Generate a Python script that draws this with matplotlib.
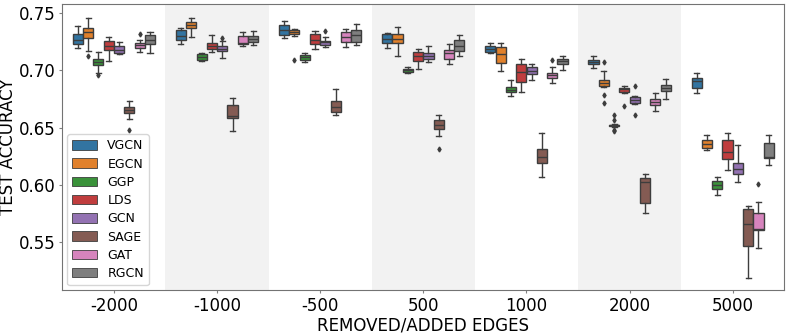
import matplotlib
matplotlib.use('Agg')
from matplotlib import pyplot as plt
import seaborn as sns

groups = ['-2000', '-1000', '-500', '500', '1000', '2000', '5000']
models = ['VGCN', 'EGCN', 'GGP', 'LDS', 'GCN', 'SAGE', 'GAT', 'RGCN']
palette = ['#1f77b4', '#ff7f0e', '#2ca02c', '#d62728', '#9467bd', '#8c564b', '#e377c2', '#7f7f7f']

# box stats, rows = groups, cols = models
whishi = [
    [0.739, 0.7454, 0.716, 0.7294, 0.725, 0.6736, 0.7268, 0.7334],
    [0.7373, 0.746, 0.7151, 0.7305, 0.7259, 0.6762, 0.7334, 0.7343],
    [0.743, 0.7364, 0.7154, 0.7343, 0.7291, 0.6837, 0.7364, 0.7401],
    [0.7329, 0.7378, 0.7026, 0.7186, 0.7212, 0.661, 0.723, 0.7311],
    [0.7242, 0.7242, 0.6913, 0.7099, 0.7055, 0.6455, 0.7029, 0.7122],
    [0.7125, 0.6991, 0.6530, 0.6863, 0.6776, 0.6092, 0.6803, 0.6924],
    [0.6976, 0.6433, 0.6064, 0.6453, 0.6348, 0.5813, 0.5851, 0.6433],
]
q3 = [
    [0.732, 0.7373, 0.7099, 0.7256, 0.7212, 0.668, 0.7238, 0.7305],
    [0.7355, 0.7425, 0.714, 0.7238, 0.7209, 0.6695, 0.7297, 0.7299],
    [0.7399, 0.7355, 0.7137, 0.7314, 0.7259, 0.673, 0.7334, 0.7355],
    [0.7317, 0.7317, 0.7011, 0.7163, 0.7148, 0.6563, 0.718, 0.7268],
    [0.7212, 0.7203, 0.6852, 0.7058, 0.7026, 0.6311, 0.6976, 0.7099],
    [0.7093, 0.6913, 0.6526, 0.6849, 0.6767, 0.606, 0.6747, 0.6875],
    [0.6936, 0.6395, 0.6034, 0.6395, 0.6191, 0.5784, 0.575, 0.6366],
]
med = [
    [0.7262, 0.7334, 0.7072, 0.721, 0.718, 0.6657, 0.7221, 0.7268],
    [0.7297, 0.7395, 0.7116, 0.7212, 0.7189, 0.6601, 0.7240, 0.7277],
    [0.7349, 0.7338, 0.7116, 0.7262, 0.7244, 0.668, 0.7294, 0.7312],
    [0.7273, 0.7273, 0.7, 0.7125, 0.7128, 0.652, 0.7151, 0.7215],
    [0.7189, 0.714, 0.6832, 0.6985, 0.6997, 0.6241, 0.6959, 0.7081],
    [0.7076, 0.689, 0.652, 0.6834, 0.6744, 0.602, 0.6723, 0.6846],
    [0.6904, 0.636, 0.5994, 0.6284, 0.6134, 0.5654, 0.561, 0.6239],
]
q1 = [
    [0.7233, 0.7285, 0.7046, 0.718, 0.7154, 0.6627, 0.7198, 0.7233],
    [0.7268, 0.7366, 0.7087, 0.7186, 0.7168, 0.6587, 0.7233, 0.7247],
    [0.7305, 0.732, 0.7093, 0.7233, 0.7224, 0.6636, 0.7247, 0.7247],
    [0.7238, 0.7238, 0.6985, 0.7085, 0.7099, 0.649, 0.7102, 0.7168],
    [0.7163, 0.7064, 0.6808, 0.6898, 0.6971, 0.6191, 0.693, 0.7058],
    [0.7055, 0.6863, 0.6511, 0.6814, 0.6715, 0.5837, 0.6701, 0.6823],
    [0.6849, 0.6325, 0.5959, 0.6226, 0.609, 0.5467, 0.5604, 0.6232],
]
whislo = [
    [0.7198, 0.7166, 0.6976, 0.7079, 0.7146, 0.6575, 0.7157, 0.7154],
    [0.7233, 0.7291, 0.7085, 0.7163, 0.7105, 0.6474, 0.7209, 0.7224],
    [0.7285, 0.7297, 0.7072, 0.7189, 0.7203, 0.6613, 0.7203, 0.7218],
    [0.7192, 0.7122, 0.6974, 0.7014, 0.7072, 0.6425, 0.7058, 0.7122],
    [0.7154, 0.6994, 0.6779, 0.6808, 0.6919, 0.6072, 0.6893, 0.7006],
    [0.7024, 0.6854, 0.6505, 0.6799, 0.6703, 0.575, 0.6648, 0.6747],
    [0.6805, 0.6305, 0.5909, 0.6127, 0.6023, 0.5182, 0.5444, 0.6177],
]
# outliers: (group index, model index) -> values
fliers = {
    (0, 1): [0.7125], (0, 2): [0.6956], (0, 5): [0.6483], (0, 6): [0.7317],
    (1, 4): [0.7285],
    (2, 1): [0.7093], (2, 4): [0.734],
    (3, 5): [0.6311],
    (4, 6): [0.7093],
    (5, 1): [0.7072, 0.6782, 0.6715], (5, 2): [0.6613, 0.657, 0.6483, 0.6468],
    (5, 3): [0.6686], (5, 4): [0.686, 0.6613],
    (6, 6): [0.6011],
}

fig, ax = plt.subplots(figsize=(7.89, 3.33), dpi=100)
fig.subplots_adjust(left=0.079, right=0.994, top=0.988, bottom=0.129)

for i in range(len(groups)):
    if i % 2 == 1:
        ax.axvspan(i - 0.5, i + 0.5, color='#f2f2f2', zorder=0, lw=0)

line_col = '#3d3d3d'
nm = len(models)
bw = 0.8 / nm
for k, m in enumerate(models):
    stats, pos = [], []
    for i in range(len(groups)):
        stats.append(dict(whislo=whislo[i][k], q1=q1[i][k], med=med[i][k], q3=q3[i][k],
                          whishi=whishi[i][k], fliers=fliers.get((i, k), [])))
        pos.append(i - 0.4 + bw * (k + 0.5))
    col = sns.desaturate(palette[k], 0.75)
    ax.bxp(stats, positions=pos, widths=bw * 0.98, patch_artist=True, manage_ticks=False,
           boxprops=dict(facecolor=col, edgecolor=line_col, linewidth=1.0),
           medianprops=dict(color=line_col, linewidth=1.0),
           whiskerprops=dict(color=line_col, linewidth=1.0),
           capprops=dict(color=line_col, linewidth=1.0),
           flierprops=dict(marker='d', markersize=2.5, markerfacecolor=line_col,
                           markeredgecolor=line_col))
    ax.bar([0], [0], color=col, edgecolor=line_col, linewidth=0.6, label=m)

ax.set_xlim(-0.5, len(groups) - 0.5)
ax.set_ylim(0.508, 0.758)
ax.set_xticks(range(len(groups)))
ax.set_xticklabels(groups)
ax.set_yticks([0.55, 0.60, 0.65, 0.70, 0.75])
ax.set_yticklabels(['0.55', '0.60', '0.65', '0.70', '0.75'])
ax.tick_params(labelsize=12, length=2, color='0.5', pad=3)
for s in ax.spines.values():
    s.set_color('0.45')
ax.set_xlabel('REMOVED/ADDED EDGES', fontsize=12, labelpad=1)
ax.set_ylabel('TEST ACCURACY', fontsize=12, labelpad=1)
ax.legend(loc='lower left', fontsize=9, handlelength=2.0, handleheight=0.8,
          labelspacing=0.42, borderpad=0.4, borderaxespad=0.4)

plt.savefig('out.png')
